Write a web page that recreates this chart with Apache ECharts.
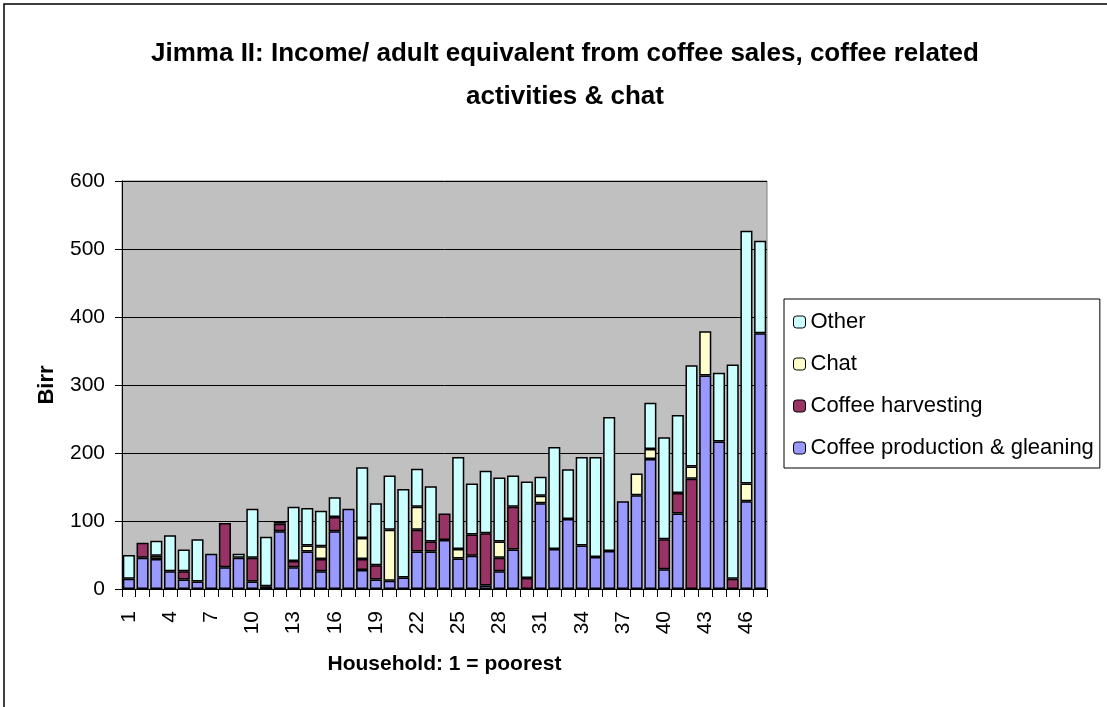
<!DOCTYPE html>
<html>
<head>
<meta charset="utf-8">
<script src="https://cdn.jsdelivr.net/npm/echarts@6/dist/echarts.min.js"></script>
<style>
  html, body { margin: 0; padding: 0; background: #ffffff; }
  #chart { width: 1107px; height: 707px; }
</style>
</head>
<body>
<div id="chart"></div>
<script>
// Households ranked 1 (poorest) to 47
const households = Array.from({ length: 47 }, (_, i) => String(i + 1));

// Income per adult equivalent (Birr) by source
const coffeeProduction = [15, 46, 44, 26, 14, 11, 52, 32, 46, 11, 4, 85, 32, 55, 26, 85, 118, 28, 14, 12, 17, 55, 55, 72, 45, 49, 5, 26, 58, 0, 126, 59, 103, 64, 47, 56, 129, 138, 191, 29, 111, 0, 314, 217, 0, 129, 376];
const coffeeHarvesting = [0, 22, 0, 0, 12, 0, 0, 65, 0, 35, 0, 11, 9, 0, 18, 21, 0, 16, 21, 0, 0, 32, 15, 39, 0, 31, 77, 20, 63, 16, 0, 0, 0, 0, 0, 0, 0, 0, 0, 44, 30, 162, 0, 0, 15, 0, 0];
const chat = [0, 0, 5, 0, 0, 0, 0, 0, 0, 0, 0, 0, 0, 9, 19, 0, 0, 31, 0, 75, 0, 34, 0, 0, 14, 0, 0, 24, 0, 0, 11, 0, 0, 0, 0, 0, 0, 32, 15, 0, 0, 18, 65, 0, 0, 26, 0];
const other = [35, 0, 22, 53, 32, 62, 0, 0, 6, 72, 73, 4, 80, 55, 52, 29, 0, 104, 91, 80, 130, 56, 81, 0, 135, 75, 92, 94, 46, 142, 28, 150, 73, 130, 147, 197, 0, 0, 68, 150, 115, 149, 0, 101, 315, 372, 136];

const FONT = '"Liberation Sans", Arial, sans-serif';

// Empty segments are skipped so they don't add an extra outline
function stackSeries(name, data, color) {
  return {
    name: name,
    type: 'bar',
    stack: 'income',
    data: data.map(v => (v === 0 ? '-' : v)),
    barCategoryGap: '12%',
    itemStyle: { color: color, borderColor: '#000000', borderWidth: 1.5 },
    emphasis: { disabled: true }
  };
}

const chart = echarts.init(document.getElementById('chart'), null, { renderer: 'canvas' });

chart.setOption({
  animation: false,
  backgroundColor: '#ffffff',
  textStyle: { fontFamily: FONT, color: '#000000' },
  graphic: [{
    type: 'rect',
    shape: { x: 4, y: 4, width: 1200, height: 800 },
    style: { fill: 'none', stroke: '#000000', lineWidth: 1.5 },
    silent: true,
    z: -10
  }],
  title: {
    text: 'Jimma II: Income/ adult equivalent from coffee sales, coffee related\nactivities & chat',
    left: 560,
    top: 27,
    textAlign: 'center',
    textStyle: {
      fontFamily: FONT,
      fontSize: 26,
      fontWeight: 'bold',
      color: '#000000',
      lineHeight: 43
    }
  },
  legend: {
    orient: 'vertical',
    left: 784,
    top: 299,
    padding: [12, 6, 9, 9],
    itemWidth: 12,
    itemHeight: 12,
    itemGap: 20,
    borderColor: '#000000',
    borderWidth: 1,
    backgroundColor: '#ffffff',
    data: ['Other', 'Chat', 'Coffee harvesting', 'Coffee production & gleaning'],
    itemStyle: { borderWidth: 1 },
    textStyle: { fontFamily: FONT, fontSize: 22, lineHeight: 22, color: '#000000' }
  },
  grid: {
    left: 122,
    top: 181,
    width: 645,
    height: 408,
    show: true,
    backgroundColor: '#C0C0C0',
    borderColor: '#808080',
    borderWidth: 1
  },
  xAxis: {
    type: 'category',
    data: households,
    name: 'Household: 1 = poorest',
    nameLocation: 'middle',
    nameGap: 65,
    nameTextStyle: { fontFamily: FONT, fontSize: 21, fontWeight: 'bold', color: '#000000' },
    axisLine: { lineStyle: { color: '#000000', width: 1 } },
    axisTick: { show: true, interval: 0, length: 8, lineStyle: { color: '#000000' } },
    axisLabel: { interval: 2, rotate: 90, margin: 22, fontFamily: FONT, fontSize: 21, color: '#000000' }
  },
  yAxis: {
    type: 'value',
    min: 0,
    max: 600,
    interval: 100,
    name: 'Birr',
    nameLocation: 'middle',
    nameGap: 64,
    nameRotate: 90,
    nameTextStyle: { fontFamily: FONT, fontSize: 22, fontWeight: 'bold', color: '#000000' },
    axisLine: { show: true, lineStyle: { color: '#000000', width: 1 } },
    axisTick: { show: true, length: 7, lineStyle: { color: '#000000' } },
    axisLabel: { margin: 17, fontFamily: FONT, fontSize: 21, color: '#000000' },
    splitLine: { show: true, lineStyle: { color: '#000000', width: 1 } }
  },
  series: [
    stackSeries('Coffee production & gleaning', coffeeProduction, '#9999FF'),
    stackSeries('Coffee harvesting', coffeeHarvesting, '#993366'),
    stackSeries('Chat', chat, '#FFFFCC'),
    stackSeries('Other', other, '#CCFFFF')
  ]
});
</script>
</body>
</html>
